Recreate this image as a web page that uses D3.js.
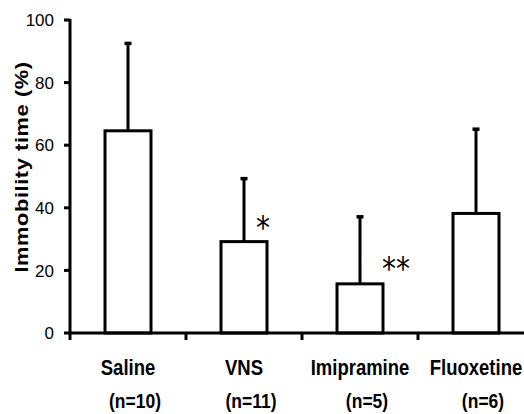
<!DOCTYPE html>
<html>
<head>
<meta charset="utf-8">
<script src="https://cdn.jsdelivr.net/npm/d3@7"></script>
<style>
  body { margin: 0; background: #fff; }
  svg { display: block; font-family: "Liberation Sans", Arial, sans-serif; }
</style>
</head>
<body>
<div id="chart"></div>
<script>
// values
var groups = ['Saline', 'VNS', 'Imipramine', 'Fluoxetine'];
var nLabels = ['(n=10)', '(n=11)', '(n=5)', '(n=6)'];
var means = [64.6, 29.2, 15.7, 38.2];
var errUp = [28.0, 20.2, 21.5, 27.0];
var sigMarks = ['', '*', '**', ''];
var sigLevel = [null, 36.5, 23.3, null];
var yTicks = [0, 20, 40, 60, 80, 100];

var W = 524, H = 414;
var margin = {top: 20, left: 70};
var plotH = 313, bandW = 116;

var svg = d3.select('#chart').append('svg')
    .attr('width', W).attr('height', H);

var g = svg.append('g')
    .attr('transform', 'translate(' + margin.left + ',' + margin.top + ')');

var x = d3.scaleBand().domain(groups).range([0, bandW * groups.length]).padding(0);
var xb = d3.scaleLinear().domain([0, groups.length]).range([0, bandW * groups.length]);
var y = d3.scaleLinear().domain([0, 100]).range([plotH, 0]);
var barW = 46;

// bars
g.selectAll('rect.bar')
  .data(means)
  .enter().append('rect')
    .attr('class', 'bar')
    .attr('x', function(d, i) { return x(groups[i]) + x.bandwidth() / 2 - barW / 2; })
    .attr('y', function(d) { return y(d); })
    .attr('width', barW)
    .attr('height', function(d) { return plotH - y(d); })
    .attr('fill', '#fff')
    .attr('stroke', '#000')
    .attr('stroke-width', 3);

// upper error bars
g.selectAll('line.err')
  .data(means)
  .enter().append('line')
    .attr('x1', function(d, i) { return x(groups[i]) + x.bandwidth() / 2; })
    .attr('x2', function(d, i) { return x(groups[i]) + x.bandwidth() / 2; })
    .attr('y1', function(d) { return y(d); })
    .attr('y2', function(d, i) { return y(d + errUp[i]); })
    .attr('stroke', '#000')
    .attr('stroke-width', 3);

g.selectAll('rect.cap')
  .data(means)
  .enter().append('rect')
    .attr('x', function(d, i) { return x(groups[i]) + x.bandwidth() / 2 - 3.5; })
    .attr('y', function(d, i) { return y(d + errUp[i]) - 1.5; })
    .attr('width', 7)
    .attr('height', 3.5)
    .attr('fill', '#000');

// axis lines
g.append('line')
    .attr('x1', -1.5).attr('x2', W - margin.left)
    .attr('y1', y(0)).attr('y2', y(0))
    .attr('stroke', '#000').attr('stroke-width', 3);
g.append('line')
    .attr('x1', 0).attr('x2', 0)
    .attr('y1', y(100) - 1).attr('y2', y(0))
    .attr('stroke', '#000').attr('stroke-width', 3);

// x ticks between groups
g.selectAll('line.xt')
  .data(d3.range(groups.length + 1))
  .enter().append('line')
    .attr('x1', function(d) { return xb(d); })
    .attr('x2', function(d) { return xb(d); })
    .attr('y1', y(0))
    .attr('y2', y(0) + 7)
    .attr('stroke', '#000').attr('stroke-width', 3);

// y ticks + labels
g.selectAll('line.yt')
  .data(yTicks)
  .enter().append('line')
    .attr('x1', -6).attr('x2', 0)
    .attr('y1', function(d) { return y(d); })
    .attr('y2', function(d) { return y(d); })
    .attr('stroke', '#000').attr('stroke-width', 3);

g.selectAll('text.yl')
  .data(yTicks)
  .enter().append('text')
    .attr('x', -16)
    .attr('y', function(d) { return y(d); })
    .attr('dy', '0.36em')
    .attr('text-anchor', 'end')
    .attr('font-size', 17)
    .text(function(d) { return d; });

// category labels
g.selectAll('text.cat')
  .data(groups)
  .enter().append('text')
    .attr('transform', function(d) { return 'translate(' + (x(d) + x.bandwidth() / 2) + ',' + (plotH + 42) + ') scale(1,1.15)'; })
    .attr('text-anchor', 'middle')
    .attr('font-size', 18.5)
    .attr('font-weight', 'bold')
    .text(function(d) { return d; });

g.selectAll('text.n')
  .data(nLabels)
  .enter().append('text')
    .attr('transform', function(d, i) { return 'translate(' + (x(groups[i]) + x.bandwidth() / 2 + 7) + ',' + (plotH + 75) + ') scale(1,1.15)'; })
    .attr('text-anchor', 'middle')
    .attr('font-size', 17.5)
    .attr('font-weight', 'bold')
    .text(function(d) { return d; });

// significance marks
var sigDx = [0, 19, 36, 0];
groups.forEach(function(grp, k) {
    if (!sigMarks[k]) return;
    g.append('text')
        .attr('transform', 'translate(' + (x(grp) + x.bandwidth() / 2 + sigDx[k]) + ',' + (y(sigLevel[k]) + 19) + ') scale(1,1.15)')
        .attr('text-anchor', 'middle')
        .attr('font-family', '"DejaVu Sans", sans-serif')
        .attr('font-size', 28)
        .text(sigMarks[k]);
});

// y label
svg.append('text')
    .attr('transform', 'translate(28,167) rotate(-90) scale(1.15,1)')
    .attr('text-anchor', 'middle')
    .attr('font-size', 19)
    .attr('font-weight', 'bold')
    .attr('letter-spacing', 0.5)
    .text('Immobility time (%)');
</script>
</body>
</html>
